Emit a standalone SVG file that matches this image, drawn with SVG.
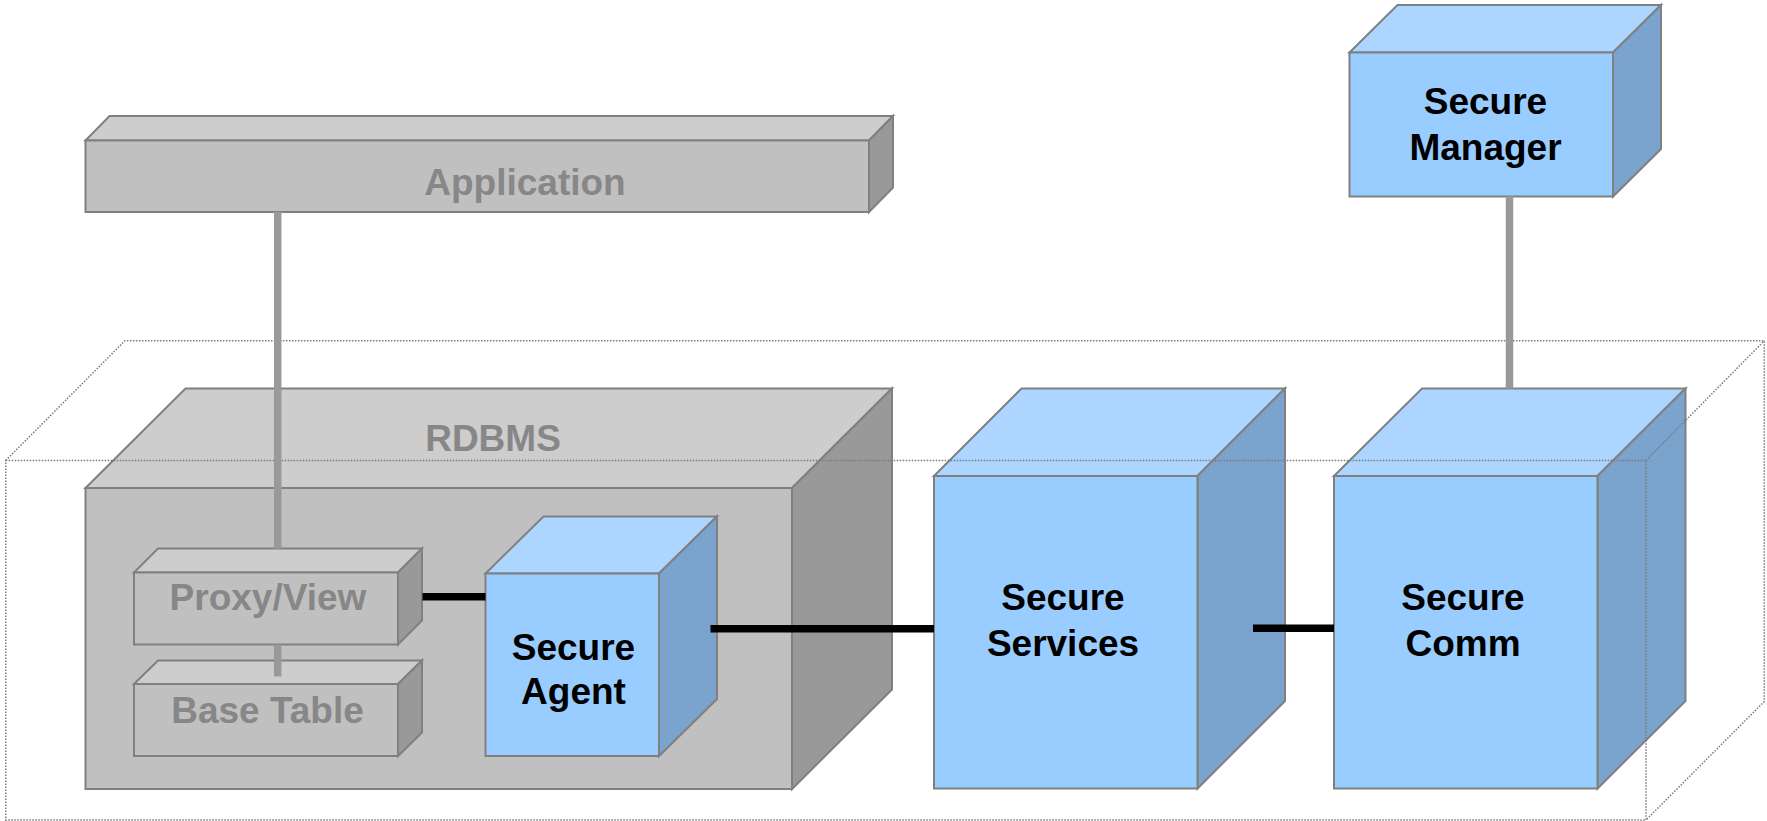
<svg xmlns="http://www.w3.org/2000/svg" width="1767" height="821" viewBox="0 0 1767 821">
  <style>
    .edge { stroke: #808080; stroke-width: 2; stroke-linejoin: miter; }
    .g-front { fill: #c0c0c0; }
    .g-top { fill: #cdcdcd; }
    .g-side { fill: #999999; }
    .b-front { fill: #99ccff; }
    .b-top { fill: #acd5ff; }
    .b-side { fill: #7aa3cd; }
    .lbl { font-family: "Liberation Sans", Arial, sans-serif; font-size: 37px; font-weight: bold; text-anchor: middle; }
    .lbl-gray { fill: #878787; }
    .lbl-dark { fill: #000000; }
    .wire { fill: none; stroke: #7a7a7a; stroke-width: 1.5; stroke-dasharray: 1.5 1.5; }
    .link-gray { stroke: #999999; stroke-width: 7.5; fill: none; }
    .link-black { stroke: #000000; stroke-width: 7.5; fill: none; }
  </style>

  <!-- Application -->
  <g id="application">
    <polygon class="g-top edge" points="85.5,140.5 109.5,116 893,116 869,140.5"/>
    <polygon class="g-side edge" points="869,140.5 893,116 893,187.5 869,212"/>
    <rect class="g-front edge" x="85.5" y="140.5" width="783.5" height="71.5"/>
    <text class="lbl lbl-gray" x="525" y="195">Application</text>
  </g>

  <!-- RDBMS container cube -->
  <g id="rdbms">
    <polygon class="g-top edge" points="85.5,488 185.5,388.5 892,388.5 792,488"/>
    <polygon class="g-side edge" points="792,488 892,388.5 892,689.5 792,789"/>
    <rect class="g-front edge" x="85.5" y="488" width="706.5" height="301"/>
    <text class="lbl lbl-gray" x="493" y="450.5">RDBMS</text>
  </g>

  <!-- Proxy/View -->
  <g id="proxy-view">
    <polygon class="g-top edge" points="134,572.5 158,548.5 422,548.5 398,572.5"/>
    <polygon class="g-side edge" points="398,572.5 422,548.5 422,620.5 398,644.5"/>
    <rect class="g-front edge" x="134" y="572.5" width="264" height="72"/>
    <text class="lbl lbl-gray" x="268" y="610">Proxy/View</text>
  </g>

  <!-- Base Table -->
  <g id="base-table">
    <polygon class="g-top edge" points="134,684 158,660.5 422,660.5 398,684"/>
    <polygon class="g-side edge" points="398,684 422,660.5 422,732.5 398,756"/>
    <rect class="g-front edge" x="134" y="684" width="264" height="72"/>
    <text class="lbl lbl-gray" x="267.5" y="722.5">Base Table</text>
  </g>

  <!-- Secure Agent -->
  <g id="secure-agent">
    <polygon class="b-top edge" points="485.5,573.5 543.5,516.5 717,516.5 659,573.5"/>
    <polygon class="b-side edge" points="659,573.5 717,516.5 717,699 659,756"/>
    <rect class="b-front edge" x="485.5" y="573.5" width="173.5" height="182.5"/>
    <text class="lbl lbl-dark" x="573.5" y="660">Secure</text>
    <text class="lbl lbl-dark" x="573.5" y="704">Agent</text>
  </g>

  <!-- Secure Services -->
  <g id="secure-services">
    <polygon class="b-top edge" points="934,476 1021.5,388.5 1285,388.5 1197.5,476"/>
    <polygon class="b-side edge" points="1197.5,476 1285,388.5 1285,701 1197.5,788.5"/>
    <rect class="b-front edge" x="934" y="476" width="263.5" height="312.5"/>
    <text class="lbl lbl-dark" x="1063" y="610">Secure</text>
    <text class="lbl lbl-dark" x="1063" y="655.5">Services</text>
  </g>

  <!-- Secure Comm -->
  <g id="secure-comm">
    <polygon class="b-top edge" points="1334,476 1422,388.5 1685.5,388.5 1597.5,476"/>
    <polygon class="b-side edge" points="1597.5,476 1685.5,388.5 1685.5,701 1597.5,788.5"/>
    <rect class="b-front edge" x="1334" y="476" width="263.5" height="312.5"/>
    <text class="lbl lbl-dark" x="1463" y="610">Secure</text>
    <text class="lbl lbl-dark" x="1463" y="655.5">Comm</text>
  </g>

  <!-- Secure Manager -->
  <g id="secure-manager">
    <polygon class="b-top edge" points="1349.5,52.5 1397.5,5 1661,5 1613,52.5"/>
    <polygon class="b-side edge" points="1613,52.5 1661,5 1661,149 1613,196.5"/>
    <rect class="b-front edge" x="1349.5" y="52.5" width="263.5" height="144"/>
    <text class="lbl lbl-dark" x="1485.5" y="114">Secure</text>
    <text class="lbl lbl-dark" x="1485.5" y="160">Manager</text>
  </g>

  <!-- Dotted wireframe boundary box -->
  <g id="boundary">
    <rect class="wire" x="5.7" y="460.5" width="1640.3" height="359.5"/>
    <polyline class="wire" points="5.7,460.5 125,340.7 1764.3,340.7 1764.3,701.5 1646,820"/>
    <line class="wire" x1="1646" y1="460.5" x2="1764.3" y2="340.7"/>
  </g>

  <!-- Connectors -->
  <g id="connectors">
    <line class="link-gray" x1="277.7" y1="212" x2="277.7" y2="548.5"/>
    <line class="link-gray" x1="277.7" y1="644.5" x2="277.7" y2="676.5"/>
    <line class="link-gray" x1="1509.5" y1="196.5" x2="1509.5" y2="388.5"/>
    <line class="link-black" x1="422.5" y1="596.7" x2="485.5" y2="596.7"/>
    <line class="link-black" x1="710.5" y1="628.7" x2="934" y2="628.7"/>
    <line class="link-black" x1="1253" y1="628.3" x2="1334" y2="628.3"/>
  </g>
</svg>
